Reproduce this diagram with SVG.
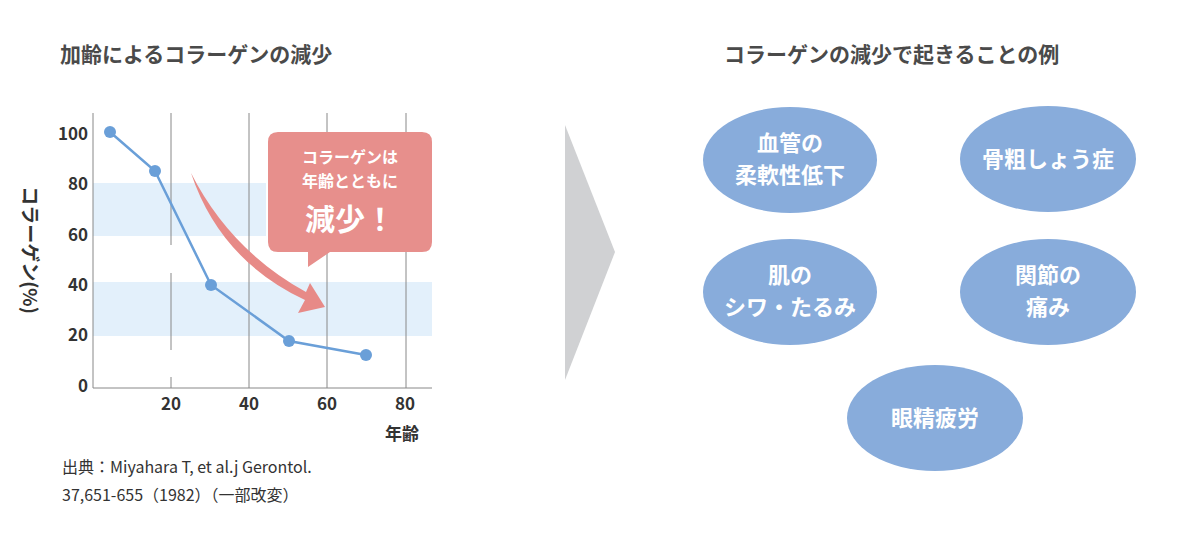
<svg xmlns="http://www.w3.org/2000/svg" width="1200" height="540" viewBox="0 0 1200 540">
<style>
text{font-family:"Noto Sans CJK JP","Liberation Sans",sans-serif;}
.title{font-size:21px;font-weight:bold;fill:#4a4a4a;}
.tick{font-size:17px;font-weight:bold;fill:#333;text-anchor:middle;}
.grid{stroke:#888;stroke-width:1;}
.band{fill:#e3f0fb;}
.ell{fill:#88acdb;}
.et{font-size:22px;font-weight:bold;fill:#fff;text-anchor:middle;}
.pt{fill:#6a9fd8;}
</style>
<rect width="1200" height="540" fill="#fff"/>
<text class="title" x="60" y="62">加齢によるコラーゲンの減少</text>
<text class="title" x="724" y="62">コラーゲンの減少で起きることの例</text>
<g id="chart">
<rect class="band" x="93" y="183" width="173" height="53"/>
<rect class="band" x="93" y="282" width="339" height="54"/>
<line class="grid" x1="171" y1="113" x2="171" y2="245"/>
<line class="grid" x1="171" y1="273" x2="171" y2="350"/>
<line class="grid" x1="171" y1="377" x2="171" y2="388"/>
<line class="grid" x1="249" y1="113" x2="249" y2="388"/>
<line class="grid" x1="327" y1="113" x2="327" y2="388"/>
<line class="grid" x1="406" y1="113" x2="406" y2="388"/>
<polyline points="93,113 93,388 432,388" fill="none" stroke="#888" stroke-width="1"/>
<text class="tick" x="88" y="140" style="text-anchor:end">100</text>
<text class="tick" x="88" y="190" style="text-anchor:end">80</text>
<text class="tick" x="88" y="241" style="text-anchor:end">60</text>
<text class="tick" x="88" y="291" style="text-anchor:end">40</text>
<text class="tick" x="88" y="341" style="text-anchor:end">20</text>
<text class="tick" x="88" y="392" style="text-anchor:end">0</text>
<text class="tick" x="171" y="410">20</text>
<text class="tick" x="249" y="410">40</text>
<text class="tick" x="327" y="410">60</text>
<text class="tick" x="405" y="410">80</text>
<text x="402" y="440" style="font-size:17px;font-weight:bold;fill:#333;text-anchor:middle">年齢</text>
<text transform="translate(23,250) rotate(90)" style="font-size:19px;font-weight:bold;fill:#333;text-anchor:middle">コラーゲン(%)</text>
<polyline points="110,132 155,171 211,285 289,341 366,355" fill="none" stroke="#6a9fd8" stroke-width="2.5"/>
<circle class="pt" cx="110" cy="132" r="6"/>
<circle class="pt" cx="155" cy="171" r="6"/>
<circle class="pt" cx="211" cy="285" r="6"/>
<circle class="pt" cx="289" cy="341" r="6"/>
<circle class="pt" cx="366" cy="355" r="6"/>
<path d="M191,173 Q220,260 305,300 L298,313 L325,307 L310,283 L306,292 Q230,250 191,173 Z" fill="#e78a87"/>
<path d="M278,132 H422 Q432,132 432,142 V242 Q432,252 422,252 H330 L308,267 L308,252 H278 Q268,252 268,242 V142 Q268,132 278,132 Z" fill="#e78f8c"/>
<text x="350" y="163" style="font-size:16px;font-weight:bold;fill:#fff;text-anchor:middle">コラーゲンは</text>
<text x="350" y="187" style="font-size:16px;font-weight:bold;fill:#fff;text-anchor:middle">年齢とともに</text>
<text x="350" y="230" style="font-size:30px;font-weight:bold;fill:#fff;text-anchor:middle">減少！</text>
<text x="62" y="473" style="font-size:16px;fill:#333">出典：Miyahara T, et al.j Gerontol.</text>
<text x="62" y="501" style="font-size:16px;fill:#333">37,651-655（1982）（一部改変）</text>
</g>
<polygon points="565,125 615,252 565,380" fill="#d0d1d3"/>
<g id="n1"><ellipse class="ell" cx="790" cy="160" rx="87" ry="53"/><text class="et" x="790" y="151">血管の</text><text class="et" x="790" y="183">柔軟性低下</text></g>
<g id="n2"><ellipse class="ell" cx="1048" cy="159" rx="88" ry="53"/><text class="et" x="1048" y="167">骨粗しょう症</text></g>
<g id="n3"><ellipse class="ell" cx="790" cy="292" rx="87" ry="53"/><text class="et" x="790" y="283">肌の</text><text class="et" x="790" y="315">シワ・たるみ</text></g>
<g id="n4"><ellipse class="ell" cx="1048" cy="292" rx="88" ry="53"/><text class="et" x="1048" y="283">関節の</text><text class="et" x="1048" y="315">痛み</text></g>
<g id="n5"><ellipse class="ell" cx="935" cy="418" rx="88" ry="53"/><text class="et" x="935" y="426">眼精疲労</text></g>
</svg>
